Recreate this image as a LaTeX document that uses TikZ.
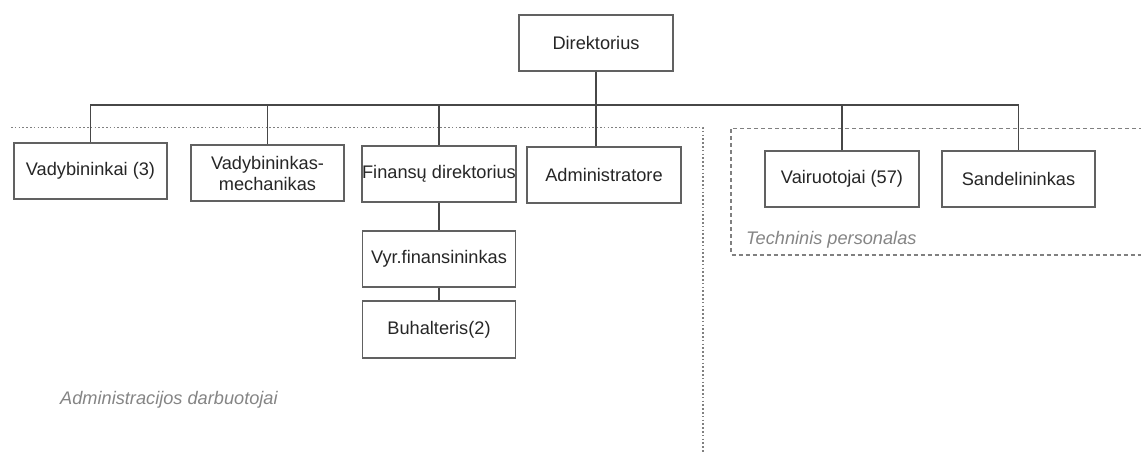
\documentclass[tikz,border=0pt]{standalone}
\usepackage{fontspec}
\setmainfont{Liberation Sans}
\begin{document}
\begin{tikzpicture}[x=1pt,y=-1pt,
  box/.style={draw=black!62, line width=1.3pt, fill=white, minimum width=154pt, minimum height=56pt,
    inner sep=0pt, align=center, text=black!85, font=\fontsize{18.2}{22}\selectfont},
  conn/.style={draw=black!72, line width=1.2pt},
  grouplabel/.style={text=black!48, font=\fontsize{18.2}{22}\selectfont\itshape, inner sep=0pt, anchor=west},
  admline/.style={draw=black!50, line width=1.1pt, dash pattern=on 1.6pt off 2.2pt},
  techline/.style={draw=black!50, line width=1.3pt, dash pattern=on 4pt off 3pt}]
\useasboundingbox (0,0) rectangle (1141,454);
\fill[white] (0,0) rectangle (1141,454);

% group outlines
\coordinate (admA) at (11,127.5);
\coordinate (admB) at (703,127.5);
\coordinate (admC) at (703,454);
\draw[admline] (admA) -- (admB) -- (admC);
\coordinate (techA) at (1150,128.5);
\coordinate (techB) at (731,128.5);
\coordinate (techC) at (731,255);
\coordinate (techD) at (1150,255);
\draw[techline] (techA) -- (techB) -- (techC) -- (techD);

% nodes
\node[box] (dir) at (596,43) {Direktorius};
\node[box, minimum width=153pt] (vad) at (90.5,171) {Vadybininkai (3)};
\node[box, minimum width=153pt] (mech) at (267.5,173) {Vadybininkas-\\[-1pt]mechanikas};
\node[box] (fin) at (439,174) {Finansų direktorius};
\node[box] (adm) at (604,175) {Administratore};
\node[box, minimum width=153pt] (vyr) at (439,259) {Vyr.finansininkas};
\node[box, minimum width=153pt, minimum height=57pt] (buh) at (439,329.5) {Buhalteris(2)};
\node[box] (vai) at (842,179) {Vairuotojai (57)};
\node[box, minimum width=153pt] (san) at (1018.5,179) {Sandelininkas};

\node[grouplabel] (admlabel) at (60,400) {Administracijos darbuotojai};
\node[grouplabel] (techlabel) at (746,240) {Techninis personalas};

% connectors
\coordinate (bus) at (0,105);
\draw[conn] (vad.north) -- (vad.north |- bus) -- (san.north |- bus) -- (san.north);
\draw[conn] (mech.north) -- (mech.north |- bus);
\draw[conn] (fin.north) -- (fin.north |- bus);
\draw[conn] (vai.north) -- (vai.north |- bus);
\draw[conn] (dir.south) -- (dir.south |- adm.north);
\draw[conn] (fin.south) -- (vyr.north);
\draw[conn] (vyr.south) -- (buh.north);
\end{tikzpicture}
\end{document}
